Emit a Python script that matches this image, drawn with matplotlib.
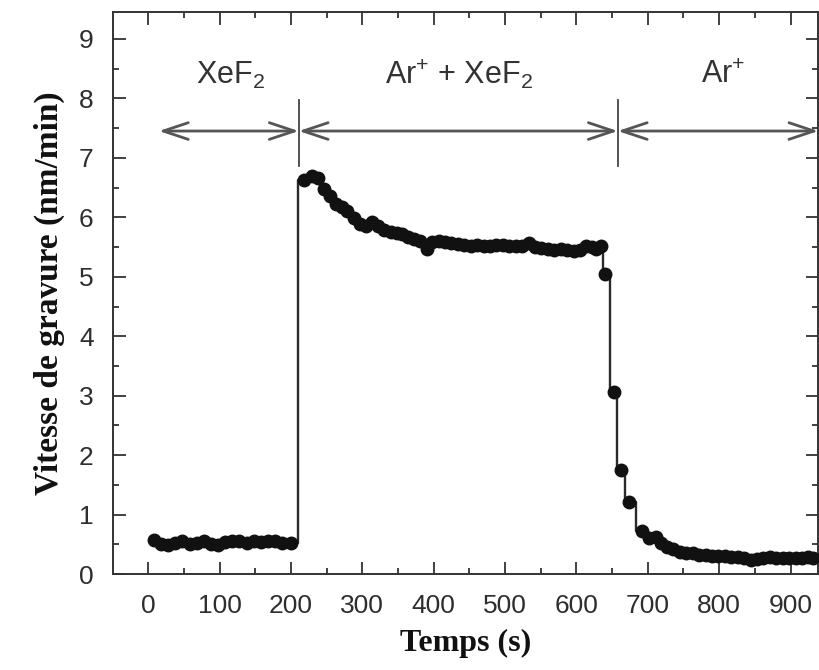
import matplotlib
matplotlib.use("Agg")
import matplotlib.pyplot as plt
from matplotlib.ticker import MultipleLocator

plt.rcParams["font.family"] = ["Liberation Sans", "DejaVu Sans"]
plt.rcParams["mathtext.fontset"] = "custom"
plt.rcParams["mathtext.rm"] = "Liberation Sans"
plt.rcParams["mathtext.it"] = "Liberation Sans:italic"
plt.rcParams["mathtext.bf"] = "Liberation Sans:bold"

# Etch-rate time series (s, nm/min)
time_xef2 = [8, 18, 28, 38, 48, 58, 68, 78, 88, 98, 108, 118, 128, 138, 148,
             158, 168, 178, 188, 200]
rate_xef2 = [0.58, 0.50, 0.49, 0.53, 0.55, 0.50, 0.52, 0.56, 0.51, 0.49, 0.54,
             0.56, 0.55, 0.53, 0.55, 0.54, 0.56, 0.55, 0.53, 0.52]

time_mix = [219, 229, 238, 247, 255, 263, 271, 279, 288, 297, 305, 314, 322,
            331, 340, 348, 356, 364, 372, 381, 390, 398, 407, 416, 425, 434,
            443, 452, 461, 470, 479, 488, 497, 506, 515, 524, 533, 542, 551,
            560, 569, 578, 587, 596, 605, 614, 622, 628, 634]
rate_mix = [6.62, 6.70, 6.66, 6.47, 6.35, 6.22, 6.17, 6.10, 5.99, 5.88, 5.86,
            5.92, 5.86, 5.78, 5.76, 5.73, 5.72, 5.67, 5.63, 5.60, 5.47, 5.58,
            5.60, 5.58, 5.57, 5.55, 5.54, 5.52, 5.53, 5.51, 5.52, 5.53, 5.53,
            5.51, 5.52, 5.52, 5.57, 5.50, 5.48, 5.46, 5.45, 5.46, 5.45, 5.44,
            5.45, 5.52, 5.50, 5.47, 5.51]

time_ar = [640, 653, 662, 674, 692, 702, 711, 719, 727, 736, 745, 754, 763,
           772, 781, 790, 799, 808, 817, 826, 835, 844, 853, 862, 871, 880,
           889, 898, 907, 916, 925, 932]
rate_ar = [5.05, 3.06, 1.75, 1.22, 0.73, 0.60, 0.63, 0.52, 0.46, 0.42, 0.38,
           0.36, 0.35, 0.33, 0.32, 0.31, 0.30, 0.30, 0.29, 0.29, 0.28, 0.24,
           0.26, 0.28, 0.29, 0.28, 0.27, 0.28, 0.27, 0.28, 0.29, 0.28]

# Gas/ion exposure phases
phase_labels = ["XeF$_2$", "Ar$^{+}$ + XeF$_2$", "Ar$^{+}$"]
phase_label_x = [115, 435, 805]
phase_bounds = [15, 211, 658, 939]

x_ticks = [0, 100, 200, 300, 400, 500, 600, 700, 800, 900]
y_ticks = [0, 1, 2, 3, 4, 5, 6, 7, 8, 9]

time_all = time_xef2 + time_mix + time_ar
rate_all = rate_xef2 + rate_mix + rate_ar

fig = plt.figure(figsize=(8.2, 6.7), dpi=100)
ax = fig.add_axes([0.138, 0.143, 0.86, 0.839])

ax.plot(time_all, rate_all, drawstyle="steps-mid", color="#2a2a2a", lw=1.7,
        zorder=2)
ax.plot(time_all, rate_all, ls="none", marker="o", ms=9, color="#111111",
        mec="#111111", zorder=3)

ax.set_xlim(-49, 939)
ax.set_ylim(0, 9.45)
ax.set_xticks(x_ticks)
ax.set_yticks(y_ticks)
ax.xaxis.set_minor_locator(MultipleLocator(50))
ax.yaxis.set_minor_locator(MultipleLocator(0.5))
ax.tick_params(which="both", direction="in", top=True, right=True,
               width=1.3, color="#333333")
ax.tick_params(which="major", length=9, labelsize=19, labelcolor="#2e2e2e")
ax.tick_params(which="minor", length=4.5)
ax.tick_params(axis="y", which="major", pad=14)
ax.tick_params(axis="x", which="major", pad=14)
ax.tick_params(axis="y", right=True, labelright=False)
for sp in ax.spines.values():
    sp.set_linewidth(1.4)
    sp.set_color("#333333")

ax.set_xlabel("Temps (s)", family=["Liberation Serif"], fontweight="bold",
              fontsize=23, color="#111111", labelpad=8)
ax.set_ylabel("Vitesse de gravure (nm/min)", family=["Liberation Serif"],
              fontweight="bold", fontsize=24, color="#111111", labelpad=10)

# Phase arrows, separators and labels
arrow_y = 7.45
for x0, x1 in zip(phase_bounds[:-1], phase_bounds[1:]):
    ax.annotate("", xy=(x1, arrow_y), xytext=(x0, arrow_y),
                arrowprops=dict(arrowstyle="<->,head_length=1.8,head_width=0.6",
                                color="#555555", lw=2.0, shrinkA=0, shrinkB=0,
                                mutation_scale=10),
                annotation_clip=False)
for xb in phase_bounds[1:3]:
    ax.plot([xb, xb], [6.87, 7.97], color="#444444", lw=1.3)
for lbl, xl in zip(phase_labels, phase_label_x):
    ax.text(xl, 8.25, lbl, ha="center", va="baseline", fontsize=22,
            color="#333333")

fig.savefig("out.png", dpi=100)
